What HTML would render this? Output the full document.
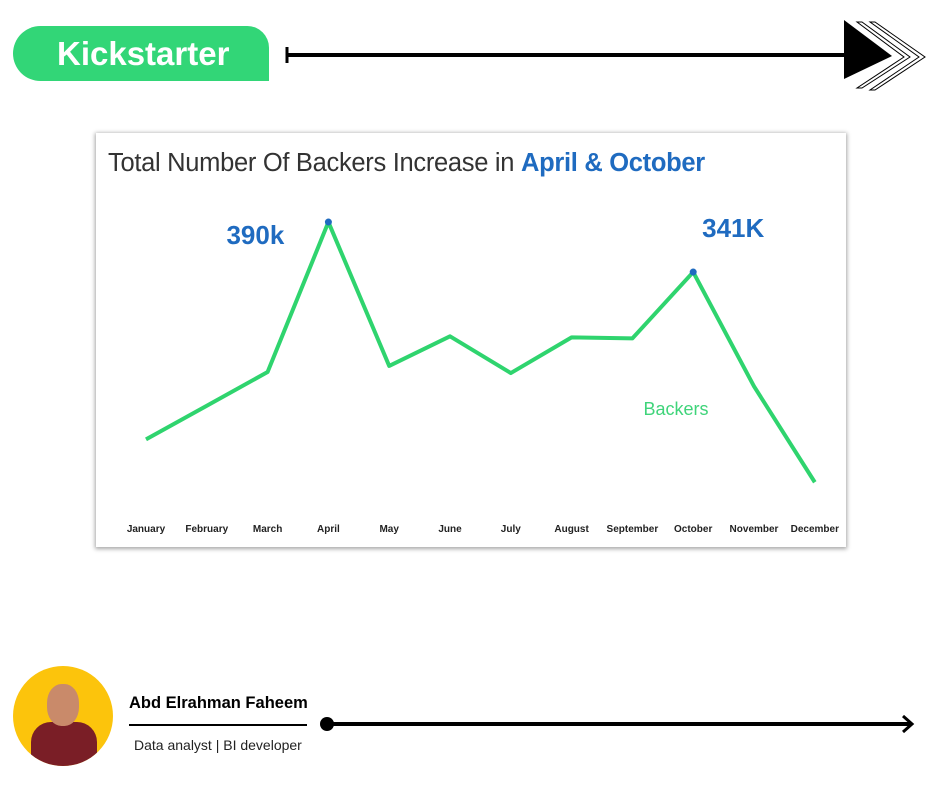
<!DOCTYPE html>
<html><head><meta charset="utf-8"><style>
body{margin:0;width:940px;height:788px;background:#fff;position:relative;overflow:hidden;font-family:"Liberation Sans",sans-serif}
.abs{position:absolute}
</style></head><body>
<div class="abs" style="left:13px;top:26px;width:256px;height:55px;background:#32d677;border-radius:28px 22px 0 28px;"></div>
<div class="abs" style="left:57px;top:35px;font-size:33px;font-weight:bold;color:#fff;letter-spacing:0px">Kickstarter</div>
<svg class="abs" style="left:0;top:0" width="940" height="100">
<line x1="287" y1="55" x2="850" y2="55" stroke="#000" stroke-width="4"/>
<line x1="287" y1="47" x2="287" y2="63" stroke="#000" stroke-width="3"/>
<polygon points="875,22 925,57 875,90 870,90 919,57 870,22" fill="#fff" stroke="#000" stroke-width="1"/>
<polygon points="862,22 910,57 862,88 857,88 904,57 857,22" fill="#fff" stroke="#000" stroke-width="1"/>
<polygon points="844,20 892,56 844,79" fill="#000"/>
</svg>
<div class="abs" style="left:96px;top:133px;width:750px;height:414px;background:#fff;box-shadow:0 1px 4px 1px rgba(0,0,0,0.35)"></div>
<div class="abs" style="left:108px;top:149px;font-size:25.5px;color:#333;letter-spacing:-0.3px">Total Number Of Backers Increase in <b style="color:#1f6bc0">April &amp; October</b></div>
<svg id="chart" class="abs" style="left:0;top:0" width="940" height="560"></svg>
<div class="abs" style="left:13px;top:666px;width:100px;height:100px;border-radius:50%;background:#fcc40c;overflow:hidden">
<div style="position:absolute;left:18px;top:56px;width:66px;height:50px;background:#7a1e26;border-radius:20px 20px 0 0"></div>
<div style="position:absolute;left:34px;top:18px;width:32px;height:42px;background:#c98a6a;border-radius:45%"></div>
</div>
<div class="abs" style="left:129px;top:694px;font-size:16.5px;font-weight:bold;color:#000">Abd Elrahman Faheem</div>
<div class="abs" style="left:129px;top:724px;width:178px;height:2px;background:#000"></div>
<div class="abs" style="left:134px;top:737px;font-size:14px;color:#222">Data analyst | BI developer</div>
<svg class="abs" style="left:0;top:700px" width="940" height="50">
<circle cx="327" cy="24" r="7" fill="#000"/>
<line x1="327" y1="24" x2="912" y2="24" stroke="#000" stroke-width="4"/>
<polyline points="903,16 912,24 903,32" fill="none" stroke="#000" stroke-width="3"/>
</svg>
<script>
const months=["January","February","March","April","May","June","July","August","September","October","November","December"];
const backers=[177,210,243,390,249,278,242,277,276,341,229,135];
const svg=document.getElementById('chart');
const NS='http://www.w3.org/2000/svg';
const xS=i=>146+i*60.8;
const yS=v=>620-v*1.0204;
let pl=document.createElementNS(NS,'polyline');


pl.setAttribute('points',backers.map((v,i)=>xS(i)+','+yS(v)).join(' '));
pl.setAttribute('fill','none');pl.setAttribute('stroke','#2fd46e');pl.setAttribute('stroke-width','4');pl.setAttribute('stroke-linejoin','round');
svg.appendChild(pl);
months.forEach((m,i)=>{
 let t=document.createElementNS(NS,'text');
 
 
 t.setAttribute('x',xS(i));t.setAttribute('y',532);t.setAttribute('text-anchor','middle');
 t.setAttribute('font-size','10');t.setAttribute('font-weight','bold');t.setAttribute('fill','#222');
 t.textContent=m;svg.appendChild(t);
});
const hi=[3,9];const hiLabels=["390k","341K"];const offs=[[-73,22],[40,-35]];
hi.forEach((idx,k)=>{
 let c=document.createElementNS(NS,'circle');
 
 
 c.setAttribute('cx',xS(idx));c.setAttribute('cy',yS(backers[idx]));c.setAttribute('r',3.5);c.setAttribute('fill','#1f6bc0');
 svg.appendChild(c);
 let t=document.createElementNS(NS,'text');
 
 
 t.setAttribute('x',xS(idx)+offs[k][0]);t.setAttribute('y',yS(backers[idx])+offs[k][1]);t.setAttribute('text-anchor','middle');
 t.setAttribute('font-size','26');t.setAttribute('font-weight','bold');t.setAttribute('fill','#1f6bc0');
 t.textContent=hiLabels[k];svg.appendChild(t);
});
let lg=document.createElementNS(NS,'text');


lg.setAttribute('x',676);lg.setAttribute('y',415);lg.setAttribute('text-anchor','middle');lg.setAttribute('font-size','18');lg.setAttribute('fill','#3fd47a');
lg.textContent='Backers';svg.appendChild(lg);
</script>
</body></html>
